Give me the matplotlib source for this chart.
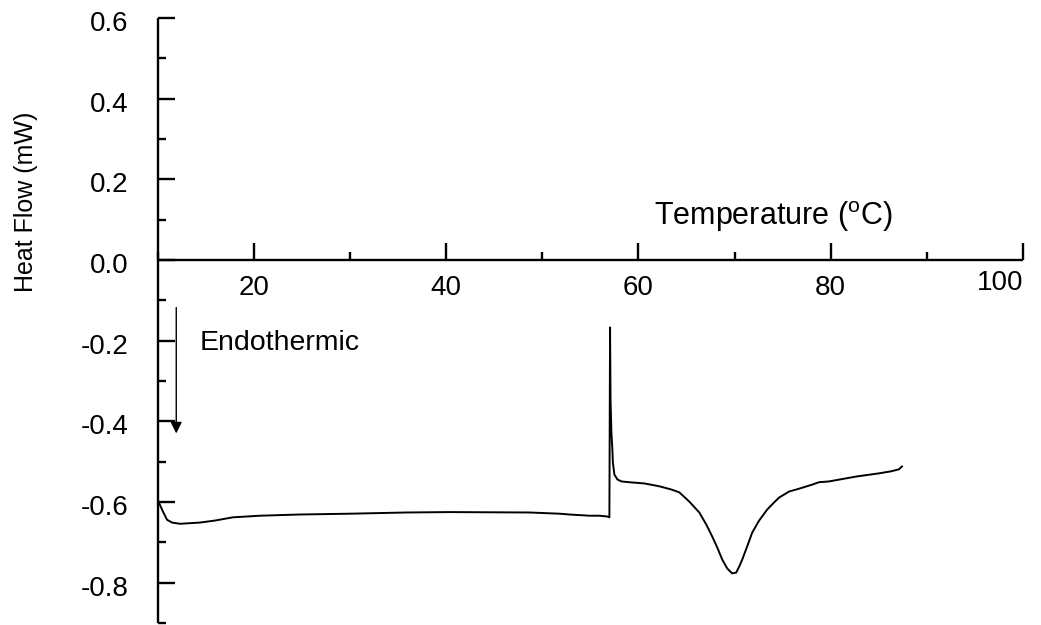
import matplotlib
matplotlib.use("Agg")
import matplotlib.pyplot as plt
import matplotlib.transforms as mtrans
from matplotlib.ticker import MultipleLocator

plt.rcParams["font.family"] = ["Liberation Sans", "DejaVu Sans"]
plt.rcParams["mathtext.fontset"] = "custom"
plt.rcParams["mathtext.rm"] = "Liberation Sans"

# DSC trace: temperature (°C) vs heat flow (mW)
temperature = [
    10.10, 10.57, 10.99, 11.51, 12.34, 14.41, 15.97, 17.84, 20.65, 24.80,
    29.99, 35.91, 40.37, 48.68, 51.79, 52.83, 54.91, 55.95, 56.78, 56.99,
    57.06, 57.11, 57.20, 57.30, 57.35, 57.51, 57.82, 58.24, 59.07, 60.63,
    62.18, 63.43, 64.26, 65.30, 66.34, 67.07, 67.69, 68.21, 68.73, 69.25,
    69.76, 70.18, 70.49, 70.80, 71.32, 71.84, 72.56, 73.39, 74.12, 74.64,
    75.68, 76.72, 78.07, 78.78, 79.83, 82.62, 85.02, 86.26, 87.10, 87.41,
]
heat_flow = [
    -0.599, -0.624, -0.644, -0.651, -0.654, -0.651, -0.646, -0.638, -0.634, -0.631,
    -0.629, -0.626, -0.625, -0.626, -0.629, -0.631, -0.634, -0.634, -0.636, -0.638,
    -0.167, -0.346, -0.428, -0.470, -0.502, -0.532, -0.544, -0.549, -0.551, -0.554,
    -0.561, -0.569, -0.576, -0.599, -0.626, -0.656, -0.686, -0.713, -0.743, -0.765,
    -0.777, -0.775, -0.760, -0.743, -0.710, -0.676, -0.646, -0.619, -0.601, -0.589,
    -0.574, -0.567, -0.557, -0.551, -0.549, -0.537, -0.529, -0.524, -0.519, -0.512,
]

x_major = [20, 40, 60, 80, 100]
x_labels = ["20", "40", "60", "80", "100"]
y_major = [0.6, 0.4, 0.2, 0.0, -0.2, -0.4, -0.6, -0.8]
y_labels = ["0.6", "0.4", "0.2", "0.0", "-0.2", "-0.4", "-0.6", "-0.8"]

fig = plt.figure(figsize=(10.41, 6.25), dpi=100)
ax = fig.add_axes([157.5 / 1041, 1 - 623 / 625, (1023 - 157.5) / 1041, (623 - 18) / 625])

ax.plot(temperature, heat_flow, color="black", lw=1.4)

ax.set_xlim(10, 100)
ax.set_ylim(-0.9, 0.6)

for side in ("top", "right"):
    ax.spines[side].set_visible(False)
ax.spines["bottom"].set_position(("data", 0))
for side in ("left", "bottom"):
    ax.spines[side].set_linewidth(1.7)
    ax.spines[side].set_capstyle("butt")

ax.xaxis.set_major_locator(plt.FixedLocator(x_major))
ax.xaxis.set_minor_locator(MultipleLocator(10))
ax.set_xticklabels(x_labels)
ax.yaxis.set_major_locator(plt.FixedLocator(y_major))
ax.set_yticklabels(y_labels)
ax.yaxis.set_minor_locator(MultipleLocator(0.1))

ax.tick_params(axis="both", which="major", direction="in", length=12, width=1.7,
               labelsize=20)
ax.tick_params(axis="both", which="minor", direction="in", length=6, width=1.7)
ax.tick_params(axis="x", which="major", pad=11)
ax.tick_params(axis="y", which="major", pad=21)

# y labels sit a little below their ticks
down = mtrans.ScaledTranslation(0, -3 / 100, fig.dpi_scale_trans)
for lab in ax.get_yticklabels():
    lab.set_transform(lab.get_transform() + down)

# keep the last x label inside the frame
last = ax.get_xticklabels()[-1]
last.set_horizontalalignment("right")
last.set_transform(last.get_transform()
                   + mtrans.ScaledTranslation(0, 5 / 100, fig.dpi_scale_trans))

ax.text(61.66, 0.088, "Temperature ($^{\\rm o}$C)", fontsize=22,
        ha="left", va="baseline")
ax.text(14.4, -0.222, "Endothermic", fontsize=20.5, ha="left", va="baseline")
ax.annotate("", xy=(11.95, -0.43), xytext=(11.95, -0.118),
            arrowprops=dict(arrowstyle="-|>", color="black", lw=1.0,
                            mutation_scale=17, shrinkA=0, shrinkB=0))

fig.text(26 / 1041, 1 - 202 / 625, "Heat Flow (mW)", rotation=90,
         fontsize=18, ha="center", va="center")

fig.savefig("out.png", dpi=100)
